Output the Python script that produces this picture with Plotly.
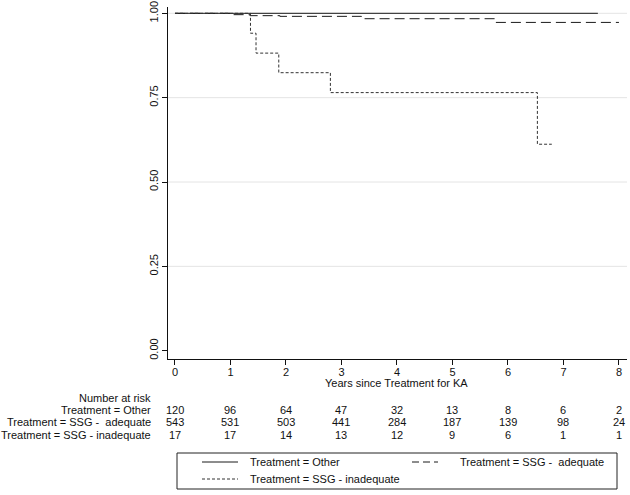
import plotly.graph_objects as go

# ---- data ----
other_t = [0, 7.62]
other_s = [1.0, 1.0]
adeq_t = [0, 1.05, 1.35, 1.89, 3.36, 5.78, 8.0]
adeq_s = [1.0, 0.996, 0.993, 0.991, 0.984, 0.973, 0.973]
inad_t = [0, 1.36, 1.46, 1.87, 2.80, 6.53, 6.79]
inad_s = [1.0, 0.941, 0.882, 0.824, 0.765, 0.612, 0.612]

x_ticks = [0, 1, 2, 3, 4, 5, 6, 7, 8]
y_ticks = [0.0, 0.25, 0.50, 0.75, 1.00]
y_tick_labels = ["0.00", "0.25", "0.50", "0.75", "1.00"]
grid_vals = [0.25, 0.50, 0.75, 1.00]
x_title = "Years since Treatment for KA"

risk_title = "Number at risk"
risk_labels = ["Treatment = Other", "Treatment = SSG -  adequate", "Treatment = SSG - inadequate"]
risk_other = [120, 96, 64, 47, 32, 13, 8, 6, 2]
risk_adeq = [543, 531, 503, 441, 284, 187, 139, 98, 24]
risk_inad = [17, 17, 14, 13, 12, 9, 6, 1, 1]

series_names = ["Treatment = Other", "Treatment = SSG -  adequate", "Treatment = SSG - inadequate"]

# ---- layout geometry (pixels) ----
W, H = 630, 495
L, R, T, B = 168, 3, 7, 136
plot_h = H - T - B
plot_w = W - L - R
FONT = "Liberation Sans, Arial, sans-serif"
TXT = "#111111"

def py(pix):
    return (H - B - pix) / plot_h

def px(pix):
    return (pix - L) / plot_w

styles = [
    dict(color="#1a1a1a", width=1),
    dict(color="#1a1a1a", width=1, dash="10px,5px"),
    dict(color="#333333", width=1, dash="3px,2px"),
]
legend_styles = [
    dict(color="#1a1a1a", width=1),
    dict(color="#1a1a1a", width=1, dash="7px,4px"),
    dict(color="#333333", width=1, dash="3px,2px"),
]

fig = go.Figure()
for t, s, st, nm in zip([other_t, adeq_t, inad_t], [other_s, adeq_s, inad_s], styles, series_names):
    fig.add_trace(go.Scatter(x=t, y=s, mode="lines", line_shape="hv", line=st, name=nm,
                             showlegend=False))

shapes = []
for g in grid_vals:
    shapes.append(dict(type="line", xref="paper", yref="y", x0=0, x1=1, y0=g, y1=g,
                       line=dict(color="#e4e4e4", width=1), layer="below"))
# legend box
shapes.append(dict(type="rect", xref="paper", yref="paper", x0=px(177), x1=px(617),
                   y0=py(489), y1=py(453), line=dict(color="#222", width=1)))

annotations = []
# x axis title
annotations.append(dict(text=x_title, xref="x", yref="paper", x=4, y=py(383),
                        xanchor="center", yanchor="middle", showarrow=False,
                        font=dict(family=FONT, size=11, color=TXT)))
# legend entries (sample line + text)
leg_pos = [(202, 238, 248, 462), (412, 438, 458, 462), (202, 238, 248, 479)]
for (sx0, sx1, tx, ty), st, nm in zip(leg_pos, legend_styles, series_names):
    shapes.append(dict(type="line", xref="paper", yref="paper", x0=px(sx0), x1=px(sx1),
                       y0=py(ty), y1=py(ty), line=st))
    annotations.append(dict(text=nm, xref="paper", yref="paper", x=px(tx), y=py(ty),
                            xanchor="left", yanchor="middle", showarrow=False,
                            font=dict(family=FONT, size=11, color=TXT)))

annotations.append(dict(text=risk_title, xref="paper", yref="paper", x=px(153), y=py(398),
                        xanchor="right", yanchor="middle", showarrow=False,
                        font=dict(family=FONT, size=11, color=TXT)))
row_y = [410, 422, 435]
for lab, vals, ry in zip(risk_labels, [risk_other, risk_adeq, risk_inad], row_y):
    annotations.append(dict(text=lab, xref="paper", yref="paper", x=px(153), y=py(ry),
                            xanchor="right", yanchor="middle", showarrow=False,
                            font=dict(family=FONT, size=11, color=TXT)))
    for xv, v in zip(x_ticks, vals):
        annotations.append(dict(text=str(v), xref="x", yref="paper", x=xv, y=py(ry),
                                xanchor="center", yanchor="middle", showarrow=False,
                                font=dict(family=FONT, size=11, color=TXT)))

fig.update_layout(
    width=W, height=H,
    margin=dict(l=L, r=R, t=T, b=B, autoexpand=False),
    paper_bgcolor="white", plot_bgcolor="white",
    font=dict(family=FONT, size=11, color=TXT),
    shapes=shapes, annotations=annotations,
    showlegend=False,
    xaxis=dict(range=[-0.126, 8.145], tickvals=x_ticks, ticks="outside", ticklen=5,
               tickcolor="#111", showline=True, linecolor="#111", linewidth=1,
               showgrid=False, zeroline=False, tickfont=dict(size=11), automargin=False,
               ticklabelstandoff=-2),
    yaxis=dict(range=[-0.0246, 1.0187], tickvals=y_ticks, ticktext=y_tick_labels,
               ticks="outside", ticklen=5, tickcolor="#111", showline=True,
               linecolor="#111", linewidth=1, showgrid=False, zeroline=False,
               tickangle=-90, tickfont=dict(size=11), automargin=False,
               ticklabelstandoff=0),
)

fig.write_html("out.html", config={"displayModeBar": False},
               post_script="document.body.style.margin='0';")
